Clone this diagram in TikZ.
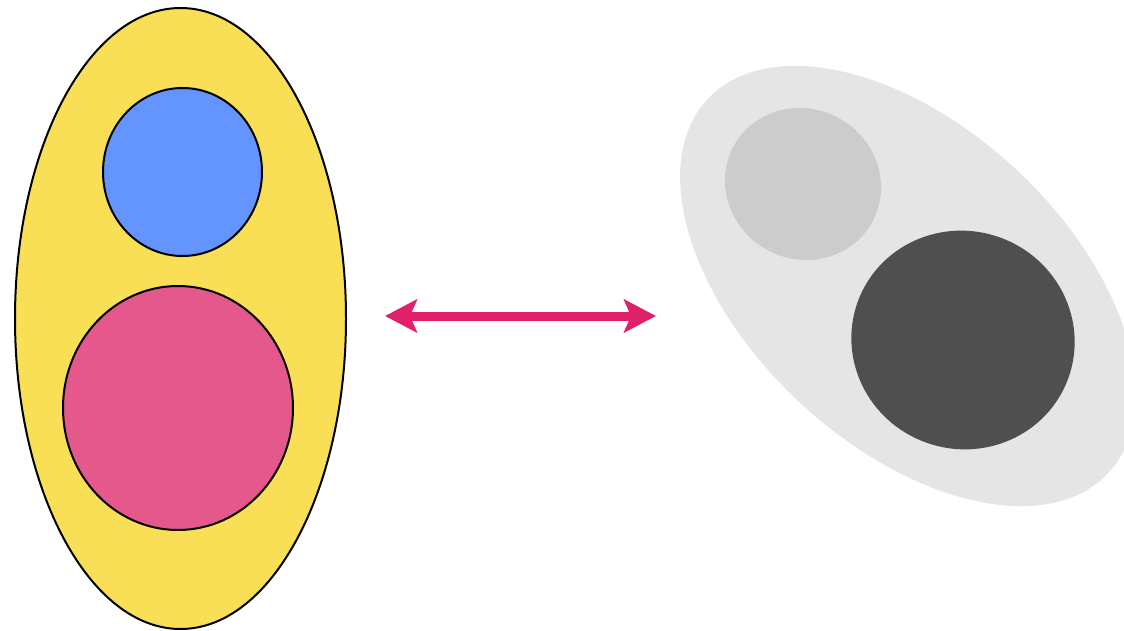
\documentclass[tikz,border=0pt]{standalone}
\usepackage{xcolor}
\usetikzlibrary{arrows.meta,shapes.geometric}

\definecolor{setyellow}{HTML}{F9DF55}
\definecolor{setblue}{HTML}{6495FF}
\definecolor{setpink}{HTML}{E5588C}
\definecolor{maparrow}{HTML}{E0206A}
\definecolor{shadelight}{HTML}{E5E5E5}
\definecolor{shademid}{HTML}{CCCCCC}
\definecolor{shadedark}{HTML}{4F4F4F}

\begin{document}
\begin{tikzpicture}[x=1pt, y=-1pt, >={Stealth[length=32pt, width=33pt, inset=7pt]},
		blob/.style={ellipse, inner sep=0pt, outer sep=0pt},
		outlined/.style={blob, draw=black, line width=2pt}]
		
		% frame
		\useasboundingbox (0,0) rectangle (1124,631);
		
		% left set with its two parts
		\node[outlined, fill=setyellow, minimum width=331pt, minimum height=621pt] (outer) at (180.5,318.5) {};
		\node[outlined, fill=setblue, minimum width=159pt, minimum height=168pt] (top) at (182.5,172) {};
		\node[outlined, fill=setpink, minimum width=230pt, minimum height=244pt] (bottom) at (178,408) {};
		
		% right set, shaded
		\node[blob, fill=shadelight, minimum width=548pt, minimum height=318pt, rotate=-43] (shade) at (908,286) {};
		\node[blob, fill=shademid, minimum width=158pt, minimum height=150pt, rotate=-30] (shadetop) at (803,184) {};
		\node[blob, fill=shadedark, minimum width=224pt, minimum height=218pt, rotate=-20] (shadebottom) at (963,340) {};
		
		% arrow both directions
		\coordinate (left end) at (385,316);
		\coordinate (right end) at (656,316);
		\draw[<->, maparrow, line width=9pt] (left end) -- (right end);
		
	\end{tikzpicture}
\end{document}
